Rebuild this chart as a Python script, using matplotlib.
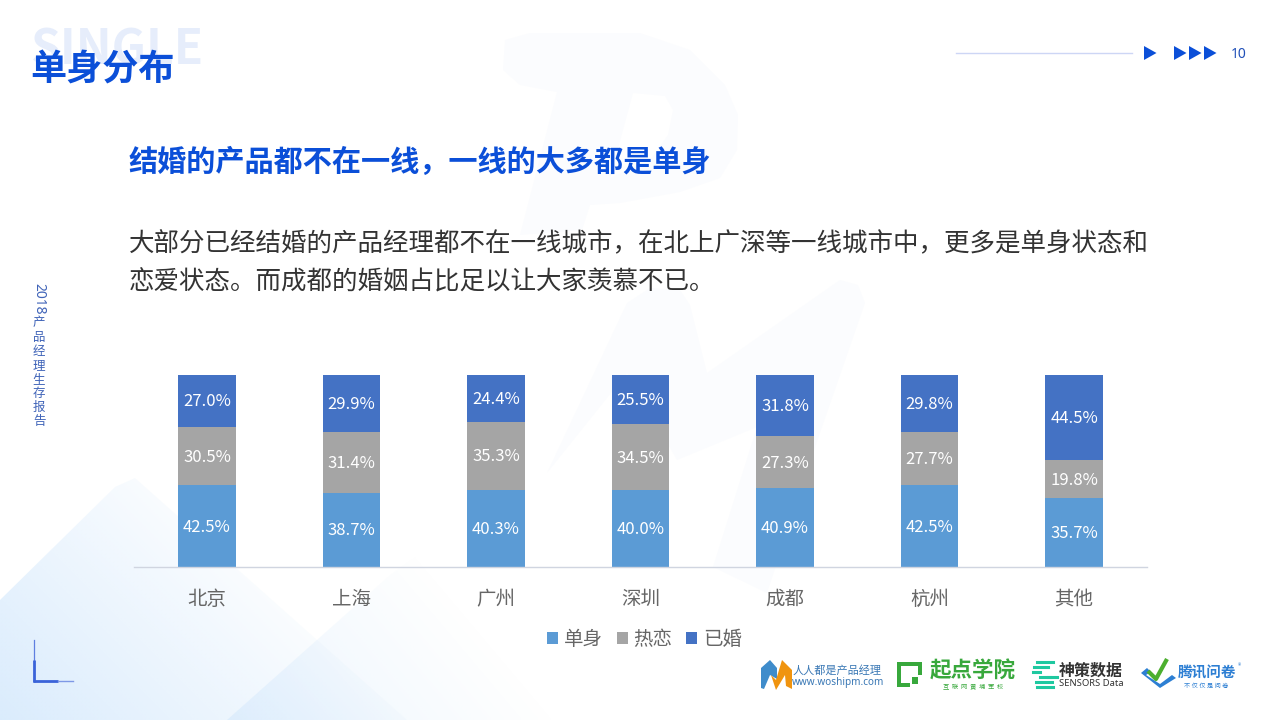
import numpy as np
import matplotlib
matplotlib.use("Agg")
import matplotlib.pyplot as plt
from matplotlib.patches import Polygon

plt.rcParams['font.family'] = ['Noto Sans CJK SC', 'DejaVu Sans']

# 数据
cities = ["北京", "上海", "广州", "深圳", "成都", "杭州", "其他"]
single = [42.5, 38.7, 40.3, 40.0, 40.9, 42.5, 35.7]
dating = [30.5, 31.4, 35.3, 34.5, 27.3, 27.7, 19.8]
married = [27.0, 29.9, 24.4, 25.5, 31.8, 29.8, 44.5]
series_names = ["单身", "热恋", "已婚"]

title = "单身分布"
subtitle = "结婚的产品都不在一线，一线的大多都是单身"
body_lines = [
    "大部分已经结婚的产品经理都不在一线城市，在北上广深等一线城市中，更多是单身状态和",
    "恋爱状态。而成都的婚姻占比足以让大家羡慕不已。",
]
side_chars = "产品经理生存报告"

BLUE = "#0b4fd8"
COLORS = ["#5b9bd5", "#a5a5a5", "#4472c4"]
MARK = "#fbfcfe"

fig = plt.figure(figsize=(12.8, 7.2), dpi=100, facecolor="white")

# 背景层，坐标就是像素
bg = fig.add_axes([0, 0, 1, 1], zorder=0)
bg.set_xlim(0, 1280)
bg.set_ylim(720, 0)
bg.axis("off")


def gradient_poly(pts, p0, p1, alpha0, zorder=1):
    """多边形内填半透明线性渐变，p0 处 alpha0，p1 处透明"""
    xx, yy = np.meshgrid(np.arange(0, 1280, 4), np.arange(0, 720, 4))
    d = np.array(p1, float) - np.array(p0, float)
    t = ((xx - p0[0]) * d[0] + (yy - p0[1]) * d[1]) / (d @ d)
    t = np.clip(t, 0, 1)
    rgba = np.zeros(xx.shape + (4,))
    rgba[..., :3] = matplotlib.colors.to_rgb("#bcdcfb")
    rgba[..., 3] = alpha0 * (1 - t)
    im = bg.imshow(rgba, extent=(0, 1280, 720, 0), aspect="auto",
                   interpolation="bilinear", zorder=zorder)
    patch = Polygon(pts, closed=True, transform=bg.transData, fc="none", ec="none")
    bg.add_patch(patch)
    im.set_clip_path(patch)


gradient_poly([(0, 600), (115, 487), (135, 478), (407, 720), (0, 720)],
              (0, 720), (230, 490), 0.55)
gradient_poly([(227, 720), (390, 575), (520, 480), (760, 720)],
              (240, 730), (430, 570), 0.3, zorder=2)

# 水印 PM
bg.add_patch(Polygon([(505, 40), (530, 33), (640, 33), (690, 50), (725, 85), (738, 115), (737, 150),
                      (720, 178), (680, 192), (620, 203), (590, 205), (582, 230), (520, 235),
                      (557, 92), (520, 85), (503, 70)],
                     fc=MARK, ec="none", zorder=3))
bg.add_patch(Polygon([(633, 93), (665, 96), (673, 110), (668, 135), (650, 160), (610, 178)],
                     fc="white", ec="none", zorder=3))
bg.add_patch(Polygon([(627, 303), (650, 288), (680, 290), (690, 305), (707, 373), (840, 280),
                      (858, 285), (865, 303), (813, 453), (767, 593), (713, 567), (757, 427),
                      (677, 460), (627, 373), (547, 473), (580, 403)],
                     fc=MARK, ec="none", zorder=3))

# 标题
bg.text(31, 50, "SINGLE", fontsize=34.5, fontweight="bold", color="#e6edfb", va="center", zorder=5)
bg.text(30.5, 70.5, title, fontsize=26, fontweight="bold", color=BLUE, va="center", zorder=6)
bg.text(129, 162, subtitle, fontsize=21, fontweight="bold", color=BLUE, va="center", zorder=6)
bg.text(129, 244.5, body_lines[0], fontsize=18.38, color="#333333", va="center", zorder=6)
bg.text(129, 282.5, body_lines[1], fontsize=18.38, color="#333333", va="center", zorder=6)

# 右上角
bg.plot([956, 1132], [53, 53], color="#cdd6f5", lw=1, zorder=6)
for x0 in [1144, 1174, 1189, 1204]:
    bg.add_patch(Polygon([(x0, 46), (x0 + 12.5, 53), (x0, 60)], fc=BLUE, ec="none", zorder=6))
bg.text(1239, 54.5, "10", fontsize=10, color="#1f4fb8", ha="center", va="center",
        family="Noto Sans", zorder=6)

# 左侧竖排
bg.text(39, 298.5, "2018", fontsize=10, color="#3f63b8", rotation=-90, ha="center", va="center",
        family="Noto Sans", zorder=6)
for i, ch in enumerate(side_chars):
    bg.text(39, 323 + i * 14.1, ch, fontsize=9, color="#3f63b8", ha="center", va="center", zorder=6)

# 左下角
bg.plot([34, 34], [640, 661], color="#5f7fe0", lw=0.9, zorder=6)
bg.plot([34.2, 34.2], [660, 682], color="#3b63d9", lw=2, zorder=6, solid_capstyle="butt")
bg.plot([33, 58], [680.7, 680.7], color="#3b63d9", lw=2, zorder=6, solid_capstyle="butt")
bg.plot([58, 73], [680.7, 680.7], color="#7e98e6", lw=1, zorder=6)

# logo 1
bg.add_patch(Polygon([(761, 668), (770, 660), (777, 668), (777, 679), (770, 675), (764, 689), (761, 688)],
                     fc="#3f8ccb", ec="none", zorder=6))
bg.add_patch(Polygon([(771, 675), (776, 680), (782, 660), (792, 670), (792, 689), (786, 686), (785, 675), (776, 690)],
                     fc="#f0940f", ec="none", zorder=6))
bg.text(837, 670.5, "人人都是产品经理", fontsize=8, color="#3a78b5", ha="center", va="center", zorder=6)
bg.text(838, 682.5, "www.woshipm.com", fontsize=7.2, color="#3a78b5", ha="center", va="center",
        family="Noto Sans", zorder=6)

# logo 2
GREEN = "#38a83c"
bg.add_patch(Polygon([(897, 662), (922, 662), (922, 675), (918, 675), (918, 666), (901, 666),
                      (901, 683), (910, 683), (910, 687), (897, 687)], fc=GREEN, ec="none", zorder=6))
bg.add_patch(Polygon([(912, 677), (918, 677), (918, 684), (912, 684)], fc=GREEN, ec="none", zorder=6))
bg.text(973, 671, "起点学院", fontsize=15.5, fontweight="bold", color=GREEN, ha="center", va="center", zorder=6)
bg.text(973, 687, "互  联  网  黄  埔  军  校", fontsize=4.5, color=GREEN, ha="center", va="center", zorder=6)

# logo 3
TEAL = "#1fc8a0"
for x0, x1, y in [(1037, 1053, 662), (1034, 1048, 667), (1033, 1040, 672), (1040, 1050, 677),
                  (1048, 1057, 677), (1036, 1052, 682), (1037, 1053, 687)]:
    bg.plot([x0, x1], [y, y], color=TEAL, lw=2.2, zorder=6)
bg.text(1091, 671, "神策数据", fontsize=11.5, fontweight="bold", color="#333333", ha="center", va="center", zorder=6)
bg.text(1091, 684, "SENSORS Data", fontsize=6.8, color="#333333", ha="center", va="center",
        family="Noto Sans", zorder=6)

# logo 4
bg.add_patch(Polygon([(1141, 673), (1147, 668), (1151, 672), (1146, 675), (1160, 684), (1172, 675),
                      (1176, 678), (1160, 688)], fc="#2d7fd3", ec="none", zorder=6))
bg.plot([1148, 1156, 1167], [671, 679, 659], color="#4caf2f", lw=3, zorder=7, solid_capstyle="butt")
bg.text(1207, 672.5, "腾讯问卷", fontsize=10.5, fontweight="bold", color="#2d7fd3", ha="center", va="center", zorder=6)
bg.text(1240, 666, "®", fontsize=5, color="#2d7fd3", ha="center", va="center", zorder=6)
bg.text(1206, 685.5, "不 仅 仅 是 问 卷", fontsize=4.5, color="#2d7fd3", ha="center", va="center", zorder=6)

# 柱状图
ax = fig.add_axes([134 / 1280, 1 - 567 / 720, (1147 - 134) / 1280, (567 - 375) / 720], zorder=2)
ax.patch.set_alpha(0)
x = np.arange(len(cities))
bottom = np.zeros(len(cities))
for name, vals, color in zip(series_names, [single, dating, married], COLORS):
    bars = ax.bar(x, vals, width=0.401, bottom=bottom, color=color, label=name)
    ax.bar_label(bars, labels=[f"{v:.1f}%" for v in vals], label_type="center",
                 color="white", fontsize=12, padding=-0.7)
    bottom += np.array(vals)

ax.set_xlim(-0.505, len(cities) - 1 + 0.505)
ax.set_ylim(0, 100)
ax.set_xticks(x)
ax.set_xticklabels(cities, fontsize=14, color="#666666")
ax.tick_params(axis="x", length=0, pad=16)
ax.set_yticks([])
for s in ["top", "left", "right"]:
    ax.spines[s].set_visible(False)
ax.spines["bottom"].set_color("#d0d5e0")
ax.spines["bottom"].set_linewidth(1)

leg = ax.legend(loc="center", bbox_to_anchor=(644.5 / 1280, 1 - 639.5 / 720), bbox_transform=fig.transFigure,
                ncol=3, frameon=False, fontsize=14, handlelength=0.57, handleheight=0.57,
                handletextpad=0.3, columnspacing=0.7, labelcolor="#666666")

fig.savefig("out.png", dpi=100)
